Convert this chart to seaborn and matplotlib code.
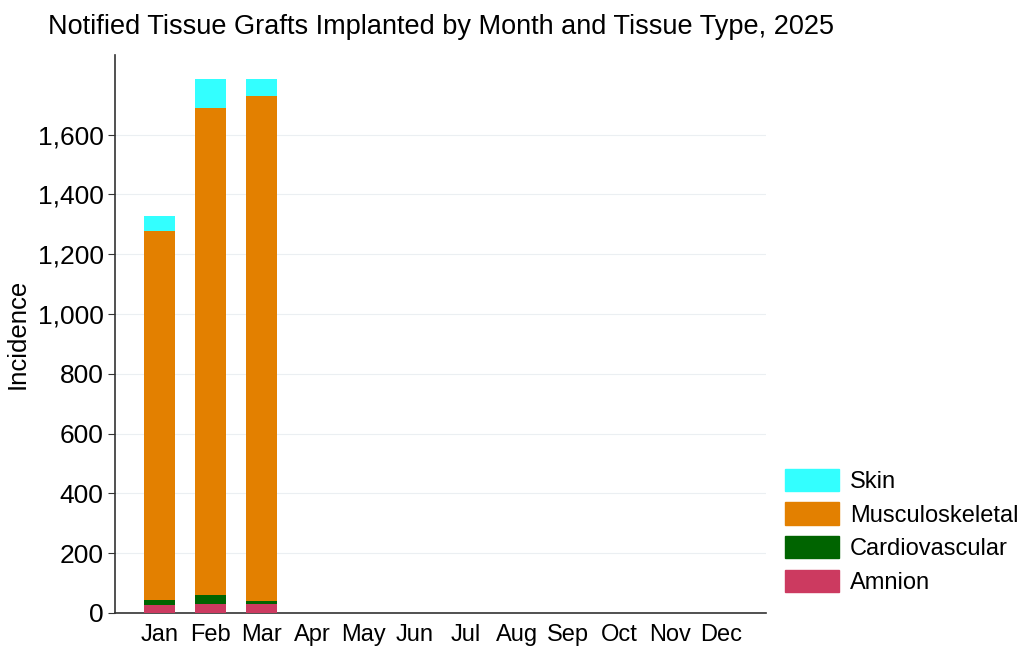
import numpy as np
import matplotlib
matplotlib.use("Agg")
import matplotlib.pyplot as plt
import matplotlib.ticker as mticker
import seaborn as sns
from matplotlib.patches import Patch

months = ["Jan", "Feb", "Mar", "Apr", "May", "Jun",
          "Jul", "Aug", "Sep", "Oct", "Nov", "Dec"]
amnion = [28, 30, 30, 0, 0, 0, 0, 0, 0, 0, 0, 0]
cardiovascular = [17, 30, 10, 0, 0, 0, 0, 0, 0, 0, 0, 0]
musculoskeletal = [1231, 1630, 1690, 0, 0, 0, 0, 0, 0, 0, 0, 0]
skin = [53, 94, 57, 0, 0, 0, 0, 0, 0, 0, 0, 0]

series = [("Amnion", amnion, "#CC3A60"),
          ("Cardiovascular", cardiovascular, "#006400"),
          ("Musculoskeletal", musculoskeletal, "#E38000"),
          ("Skin", skin, "#33FFFF")]

sns.set_style("white")
plt.rcParams["font.family"] = ["Liberation Sans", "DejaVu Sans"]
plt.rcParams["text.color"] = "black"
plt.rcParams["xtick.color"] = "black"
plt.rcParams["ytick.color"] = "black"
plt.rcParams["axes.labelcolor"] = "black"

fig = plt.figure(figsize=(10.24, 6.47), dpi=100)
ax = fig.add_axes([0.112, 0.0526, 0.636, 0.862])

bottom = np.zeros(len(months))
for name, vals, col in series:
    sns.barplot(x=months, y=vals, order=months, color=col, width=0.6,
                bottom=bottom, ax=ax, saturation=1, linewidth=0, zorder=3)
    bottom = bottom + np.array(vals)

ax.set_xlim(-0.88, 11.88)
ax.set_ylim(0, 1865)
ax.set_yticks(range(0, 1601, 200))
ax.yaxis.set_major_formatter(mticker.StrMethodFormatter("{x:,.0f}"))
ax.grid(axis="y", color="#EBEFF2", linewidth=0.8, zorder=0)
ax.set_axisbelow(True)
for s in ["top", "right"]:
    ax.spines[s].set_visible(False)
for s in ["left", "bottom"]:
    ax.spines[s].set_color("#333333")
    ax.spines[s].set_linewidth(1.2)
ax.tick_params(axis="y", labelsize=19, length=5, left=True, color="#333333", pad=3)
ax.tick_params(axis="x", labelsize=17, length=0, pad=8)
ax.set_xlabel("")
ax.set_ylabel("Incidence", fontsize=18.5, labelpad=6)
ax.set_title("Notified Tissue Grafts Implanted by Month and Tissue Type, 2025",
             fontsize=19.5, loc="left", x=-0.103, pad=15)

handles = [Patch(color=col, label=name) for name, _, col in series[::-1]]
fig.legend(handles=handles, loc="lower left", bbox_to_anchor=(0.7666, 0.082),
           frameon=False, fontsize=17, handlelength=2.3, handleheight=1.08,
           labelspacing=0.4, handletextpad=0.45, borderpad=0, borderaxespad=0)

fig.savefig("out.png", dpi=100)
